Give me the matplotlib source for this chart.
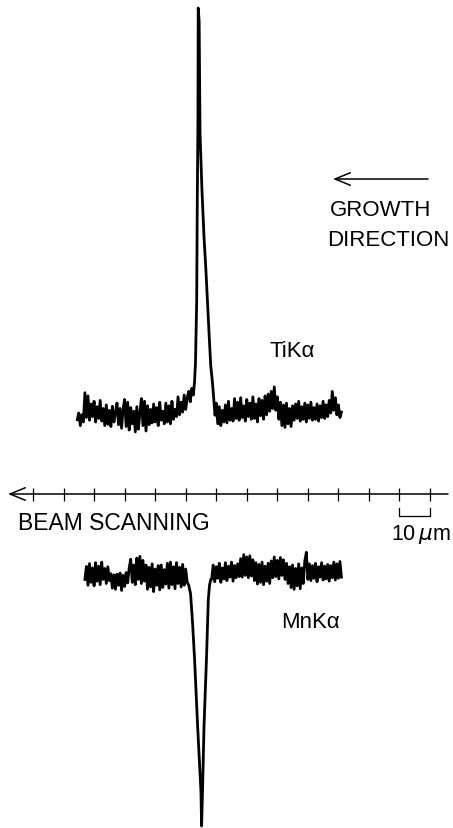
import numpy as np
import matplotlib.pyplot as plt

# region DATA
# Ti K-alpha line scan (arbitrary intensity units), x in micrometres
ti_left_x0 = 14.5
ti_left = [6.5, 8.0, 5.2, 7.6, 6.0, 12.5, 7.0, 11.8, 6.4, 10.0, 7.2, 10.6, 6.0, 9.4, 6.8,
           10.8, 6.2, 9.0, 5.2, 9.8, 5.5, 8.6, 5.0, 9.5, 6.0, 8.2, 10.2, 5.4, 9.0, 4.6,
           8.8, 11.0, 5.0, 10.4, 4.2, 9.2, 5.6, 8.4, 3.8, 9.4, 4.4, 8.0, 11.2, 5.2, 10.6,
           4.0, 9.6, 5.4, 8.8, 5.8, 10.0, 6.0, 9.2, 5.2, 10.4, 6.4, 8.4, 5.6, 10.2, 6.0,
           9.6, 5.6, 10.6, 6.6, 8.8, 7.2, 11.6, 7.6, 10.4, 8.2, 12.0, 8.8, 11.4]
ti_peak_x = [51.0, 51.5, 52.0, 52.5, 52.9, 53.2, 53.6, 53.8, 54.0, 54.1, 54.4, 54.7,
             55.3, 56.0, 56.6, 57.1, 57.7, 58.2, 58.8, 59.2, 59.6]
ti_peak = [12.8, 10.5, 13.5, 12.0, 15.0, 19.0, 33.0, 56.0, 72.0, 98.0, 95.0, 70.0,
           58.0, 47.0, 40.0, 33.0, 25.0, 18.5, 14.5, 11.0, 7.5]
ti_right_x0 = 60.0
ti_right = [10.2, 5.6, 9.4, 5.2, 8.6, 6.0, 9.8, 5.8, 10.6, 6.4, 9.0, 6.2, 11.2, 6.8, 10.4,
            6.4, 11.4, 7.0, 9.6, 6.2, 11.0, 7.2, 10.2, 6.6, 11.6, 6.8, 10.0, 6.0, 11.2, 7.4,
            10.8, 6.6, 11.8, 7.6, 12.2, 8.4, 12.8, 9.0, 13.8, 8.6, 11.6, 6.6, 10.4, 5.2, 9.8,
            4.8, 10.2, 5.6, 9.0, 5.0, 9.6, 6.4, 10.0, 6.8, 10.6, 6.2, 9.4, 6.6, 10.2, 6.0,
            9.8, 6.8, 10.4, 6.4, 9.2, 6.6, 10.0, 6.2, 9.6, 7.0, 10.6, 6.8, 9.8, 7.2, 10.8,
            8.0, 12.8, 8.6, 11.4, 7.6, 9.8, 7.0, 8.2]

# Mn K-alpha line scan
mn_left_x0 = 17.0
mn_left = [86.0, 90.5, 84.0, 91.5, 85.0, 90.0, 83.8, 91.8, 85.4, 90.6, 84.2, 92.0, 86.0,
           89.8, 84.6, 90.4, 85.6, 88.0, 83.0, 87.6, 82.6, 87.8, 84.0, 88.2, 82.2, 87.4,
           83.6, 88.4, 84.8, 90.0, 93.0, 85.0, 91.0, 84.2, 93.4, 86.0, 94.0, 84.6, 92.6,
           85.4, 91.0, 82.6, 90.2, 83.4, 91.4, 81.8, 89.6, 84.0, 90.8, 82.4, 91.0, 83.2,
           89.4, 84.4, 91.6, 83.0, 92.0, 84.2, 90.4, 82.8, 91.8, 84.6, 90.2, 83.4, 91.2,
           84.0, 89.6, 85.0]
mn_dip_x = [51.0, 51.6, 52.3, 52.9, 53.9, 55.0, 55.2, 55.5, 56.0, 56.8, 57.4, 57.8, 58.2]
mn_dip = [84.0, 81.0, 70.0, 58.5, 35.3, 12.5, 0.7, 12.5, 35.3, 58.5, 79.0, 84.0, 86.0]
mn_right_x0 = 58.5
mn_right = [86.0, 91.0, 85.2, 90.4, 86.4, 91.6, 85.0, 90.0, 86.2, 91.8, 85.6, 90.6, 86.8,
            92.0, 85.4, 90.8, 86.6, 91.4, 87.0, 93.2, 86.8, 94.6, 87.4, 93.8, 86.6, 94.2,
            87.2, 92.8, 85.6, 91.8, 84.4, 91.2, 85.0, 92.0, 84.2, 90.6, 85.4, 91.6, 84.6,
            92.4, 86.6, 93.8, 87.0, 92.6, 86.2, 93.6, 87.4, 92.8, 86.0, 91.6, 84.6, 90.4,
            83.2, 91.0, 82.6, 89.8, 83.8, 91.4, 82.8, 90.0, 84.6, 92.4, 95.4, 86.0, 91.4,
            85.6, 90.8, 86.4, 91.6, 85.2, 90.4, 86.8, 91.8, 85.8, 90.6, 86.2, 91.2, 85.4,
            90.8, 86.6, 92.0, 85.8, 91.4, 86.4, 92.2, 86.8]

step = 0.5
scale_ticks = np.arange(0, 140, 10)   # micrometre ticks on the scanning axis
scale_bar = [120, 130]                # 10 um bar
# endregion

# region ASSEMBLE TRACES
ti_x = np.concatenate([ti_left_x0 + step * np.arange(len(ti_left)), ti_peak_x,
                       ti_right_x0 + step * np.arange(len(ti_right))])
ti_y = np.concatenate([ti_left, ti_peak, ti_right])
mn_x = np.concatenate([mn_left_x0 + step * np.arange(len(mn_left)), mn_dip_x,
                       mn_right_x0 + step * np.arange(len(mn_right))])
mn_y = np.concatenate([mn_left, mn_dip, mn_right])
# endregion

plt.rcParams['font.family'] = ['Liberation Sans', 'DejaVu Sans']

W, H = 453, 829
px0, pxs = 33, 3.054            # pixel of 0 um, pixels per um
xlim = (-px0 / pxs, (W - px0) / pxs)

fig = plt.figure(figsize=(W / 100, H / 100), dpi=100, facecolor='white')

# Ti trace
ax_ti = fig.add_axes([0, 1 - 450 / H, 1, 450 / H])
ax_ti.plot(ti_x, ti_y, color='black', lw=2.0, solid_joinstyle='round')
ax_ti.set_xlim(xlim)
ax_ti.set_ylim(0, 100)
ax_ti.axis('off')

# Mn trace
ax_mn = fig.add_axes([0, 0, 1, 289 / H])
ax_mn.plot(mn_x, mn_y, color='black', lw=2.0, solid_joinstyle='round')
ax_mn.set_xlim(xlim)
ax_mn.set_ylim(0, 100)
ax_mn.axis('off')

# scanning axis, y in pixels
ax_sc = fig.add_axes([0, 0, 1, 1], zorder=-1)
ax_sc.set_xlim(xlim)
ax_sc.set_ylim(H, 0)
ax_sc.axis('off')

yax = 495
arrow = dict(arrowstyle='->,head_length=1.1,head_width=0.45',
             lw=1.1, color='black', mutation_scale=10, shrinkA=0, shrinkB=0)
ax_sc.annotate('', xy=((8 - px0) / pxs, yax), xytext=((448 - px0) / pxs, yax), arrowprops=arrow)
ax_sc.vlines(scale_ticks, yax - 6, yax + 7, color='black', lw=0.9)
# 10 um bracket
ax_sc.plot([scale_bar[0], scale_bar[0], scale_bar[1], scale_bar[1]],
           [509, 517, 517, 509], color='black', lw=0.9)

# growth direction arrow
ax_sc.annotate('', xy=((333 - px0) / pxs, 180), xytext=((428 - px0) / pxs, 180), arrowprops=arrow)

fs = 16
def ftext(x, y, s, size=fs, **kw):
    fig.text(x / W, 1 - y / H, s, fontsize=size, va='center', color='black', **kw)

ftext(330, 210, 'GROWTH')
ftext(327, 241, 'DIRECTION')
ftext(270, 352, 'TiK\u03b1')
ftext(18, 523, 'BEAM SCANNING', size=16.5)
ftext(391, 535, '10$\\,\\mu$m', size=15.5)
ftext(340, 623, 'MnK\u03b1', ha='right')

plt.savefig('out.png', dpi=100, facecolor='white')
